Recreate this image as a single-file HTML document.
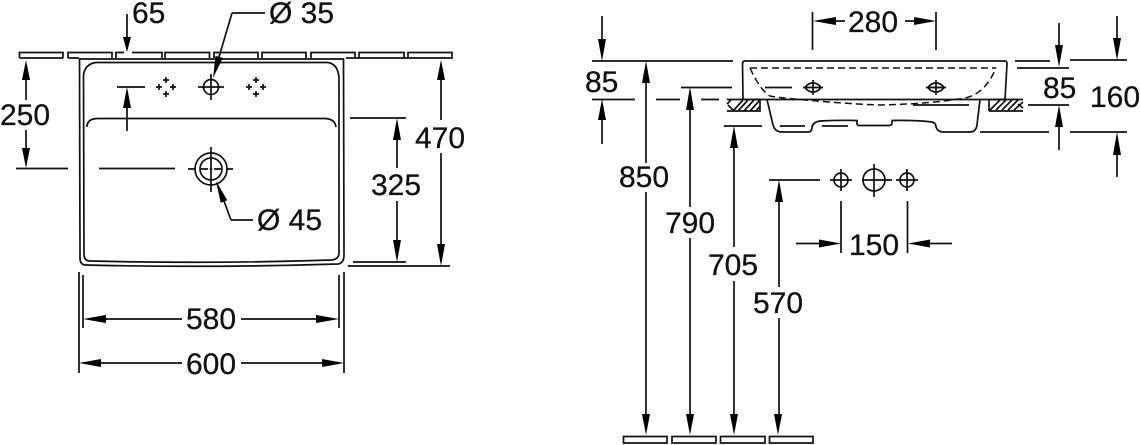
<!DOCTYPE html>
<html><head><meta charset="utf-8"><style>
html,body{margin:0;padding:0;background:#fff}
svg{display:block}
text{font-family:"Liberation Sans",sans-serif;font-size:30px;fill:#111;stroke:#111;stroke-width:.3}
.l{stroke:#111;stroke-width:1.7;fill:none}
.d{stroke:#111;stroke-width:1.5;fill:none;stroke-dasharray:7 4}
.a{fill:#000;stroke:none}
</style></head><body>
<svg width="1140" height="445" viewBox="0 0 1140 445" xmlns="http://www.w3.org/2000/svg">
<!-- left wall -->
<path class="l" d="M19.5 58V52.5H63V58M68 58V52.5H112V58M116 58V52.5H124M132 52.5H162V58M165 58V52.5H209.5V58M214 58V52.5H258V58M262 58V52.5H306V58M311 58V52.5H355V58M359 58V52.5H404V58M408 58V52.5H452V58H346M19.5 58H63M68 58H79"/>
<!-- basin plan -->
<path class="l" d="M79.5 59H343.5L344 255Q344 263 338 264Q210 268 86 265Q80 265 80 258Z"/>
<path class="l" d="M96 62.5H328Q338 64 339 78L339 253Q339 259 332 260Q210 264 90 261Q84 261 84 254L83.5 75Q85 64 96 62.5Z"/>
<path class="l" d="M87 127Q87 119 97 118.5L325 118.5Q335 119 336 127"/>
<!-- small crosses -->
<g class="l">
<path d="M166 77V83M163 80H169M166 91V97M163 94H169M156 87H162M159 84V90M170 87H176M173 84V90"/>
<path d="M256 77V83M253 80H259M256 91V97M253 94H259M246 87H252M249 84V90M260 87H266M263 84V90"/>
<circle cx="211" cy="87" r="7.5"/><path d="M198 87H224M211 74V100"/>
<circle cx="211" cy="169" r="16"/><circle cx="211" cy="169" r="11"/>
<path d="M211 147V192M188 169H196M200 169H208M214 169H222M226 169H233"/>
</g>
<circle cx="211" cy="169" r="1.3" fill="#111"/>
<!-- left dims -->
<g class="l">
<path d="M127 14V40M117 87H145M127 106V131"/>
<path d="M26 78V100M26 130V150M16 168.5H68M99 168.5H175"/>
<path d="M232 13H265M232 13L219 57M231 220H253M231 220L224 201"/>
<path d="M441 78V120M441 153V246M348 266H450M350 118H406M397 138V168M397 201V242M353 262H406"/>
<path d="M83 275V328M79 272V373M339 275V328M344 272V373"/>
<path d="M104 319H182M241 319H318M99 363H182M241 363H324"/>
</g>
<g class="a">
<polygon points="127,52 123,37 131,37"/>
<polygon points="127,87 123,108 131,108"/>
<polygon points="26,60 22,80 30,80"/>
<polygon points="26,168 22,148 30,148"/>
<polygon points="213,78 215.5,55.9 222.9,57.9"/>
<polygon points="216,181 220.7,202.8 227.3,200.2"/>
<polygon points="441,60 437,80 445,80"/>
<polygon points="441,266 437,244 445,244"/>
<polygon points="397,118 393,140 401,140"/>
<polygon points="397,262 393,240 401,240"/>
<polygon points="83,319 106,315 106,323"/>
<polygon points="339,319 316,315 316,323"/>
<polygon points="79,363 101,359 101,367"/>
<polygon points="344,363 322,359 322,367"/>
</g>
<text x="132" y="23">65</text>
<text x="0" y="125">250</text>
<text x="269" y="23">Ø 35</text>
<text x="257" y="230">Ø 45</text>
<text x="415" y="148">470</text>
<text x="371" y="195">325</text>
<text x="186" y="329">580</text>
<text x="186" y="374">600</text>
<!-- side view -->
<path class="l" d="M743 99.5L742.5 63Q743 61 745 61H1005Q1007 61 1007 64L1005 99.5H744"/>
<path class="l" d="M767 99.5L773 125Q775 132 782 132H808Q812 132 812 127Q813 122 820 121Q840 120 857 120.5V124Q857 125.5 860 125.5H889Q892 125.5 892 123V120.5Q915 120 932 122Q936 123 936 127Q938 132 943 132H970Q976 132 977 125L980 99.5"/>
<path class="d" d="M750 68H996"/>
<path class="d" d="M750 68Q760 90 770 96Q780 98 800 99.5Q850 104 880 105Q930 104 965 98Q985 94 996 68" stroke-dasharray="8 5"/>
<path class="l" d="M805 87.5Q808 83 813 83Q818 83 821 87.5Q818 92 813 92Q808 92 805 87.5ZM813 80V95M803 87.5H823"/>
<path class="l" d="M928 87.5Q931 83 936 83Q941 83 944 87.5Q941 92 936 92Q931 92 928 87.5ZM936 80V95M926 87.5H946"/>
<!-- hatch -->
<g class="l">
<path d="M727 99.5H760V111H727"/>
<path d="M989 111V99.5H1023M989 111H1023"/>
<path d="M731 100L727 104M728 105L734 111M738 111L748 100M744 111L754 100M750 111L760 100M756 111L760 106M733 111L743 100"/>
<path d="M990 110L1000 100M996 110L1006 100M1002 110L1012 100M1008 110L1018 100M1014 110L1023 102M1018 104L1023 108"/>
</g>
<!-- side dims -->
<g class="l">
<path d="M602 16V40M592 61H733M592 99.5H635M656 99.5H680M701 99.5H719M602 118V144"/>
<path d="M646 80V163M646 192V416M681 87.5H732M690 108V207M690 238V416M724 126H762M734 146V247M734 281V416M769 180H820M779 200V287M779 318V416"/>
<path d="M765 87.5H792M780 126H805M822 126H848M913 105H969"/>
<path d="M812.5 12V50M936 12V50M834 21H845M905 21H916"/>
<path d="M1015 61H1050M1017 68H1069M1059 23V47M1028 105H1069M1059 125V150M980 132H1049"/>
<path d="M1070 60H1127M1070 132H1127M1117 16V40M1117 153V177"/>
<path d="M841 201V253M907.5 201V253M796 243.5H821M928 243.5H952"/>
<circle cx="841" cy="180" r="7"/><path d="M830 180H852M841 169V191"/>
<circle cx="874" cy="180" r="11"/><path d="M862 180H892M874 164V197"/>
<circle cx="907" cy="180" r="7"/><path d="M896 180H918M907 169V191"/>
</g>
<path class="l" d="M623.5 443V436.5H667V443ZM672 443V436.5H716V443ZM720.5 443V436.5H765V443ZM769.5 443V436.5H813V443Z"/>
<g class="a">
<polygon points="602,61 598,39 606,39"/>
<polygon points="602,99 598,120 606,120"/>
<polygon points="646,61 642,83 650,83"/>
<polygon points="690,87 686,110 694,110"/>
<polygon points="734,126 730,148 738,148"/>
<polygon points="779,180 775,202 783,202"/>
<polygon points="646,435 642,414 650,414"/>
<polygon points="690,435 686,414 694,414"/>
<polygon points="734,435 730,414 738,414"/>
<polygon points="778,435 774,414 782,414"/>
<polygon points="813,21 836,17 836,25"/>
<polygon points="936,21 914,17 914,25"/>
<polygon points="1059,67 1055,45 1063,45"/>
<polygon points="1059,105 1055,127 1063,127"/>
<polygon points="1117,60 1113,38 1121,38"/>
<polygon points="1117,132 1113,155 1121,155"/>
<polygon points="841,243.5 819,239.5 819,247.5"/>
<polygon points="908,243.5 930,239.5 930,247.5"/>
</g>
<text x="585" y="92">85</text>
<text x="848" y="32">280</text>
<text x="1043" y="98">85</text>
<text x="1090" y="107">160</text>
<text x="619" y="187">850</text>
<text x="665" y="233">790</text>
<text x="708" y="275">705</text>
<text x="753" y="313">570</text>
<text x="849" y="255">150</text>
</svg>
</body></html>
